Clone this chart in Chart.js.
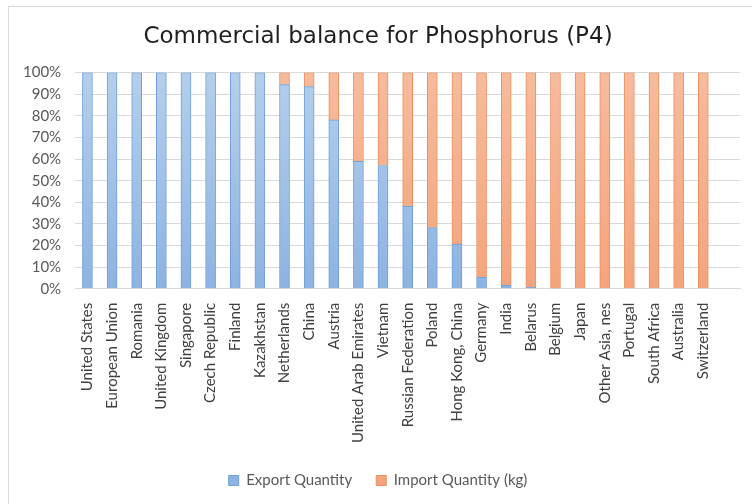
<!DOCTYPE html>
<html>
<head>
<meta charset="utf-8">
<script src="https://cdn.jsdelivr.net/npm/chart.js@4/dist/chart.umd.min.js"></script>
<style>
  html, body { margin: 0; padding: 0; background: #fff; }
  #lienzo { width: 752px; height: 504px; position: relative; }
  #marco { position: absolute; left: 8px; top: 6px; right: 0; bottom: 0;
           border-top: 1px solid #d9d9d9; border-left: 1px solid #d9d9d9; pointer-events: none; }
</style>
</head>
<body>
<div id="lienzo"><canvas id="chBal"></canvas><div id="marco"></div></div>
<script>
// Paises (el ultimo vacio deja el hueco de la derecha como en el original)
const PAISES = [
  "United States", "European Union", "Romania", "United Kingdom", "Singapore",
  "Czech Republic", "Finland", "Kazakhstan", "Netherlands", "China", "Austria",
  "United Arab Emirates", "Vietnam", "Russian Federation", "Poland",
  "Hong Kong, China", "Germany", "India", "Belarus", "Belgium", "Japan",
  "Other Asia, nes", "Portugal", "South Africa", "Australia", "Switzerland", ""
];

// Porcentaje exportado
const EXPORTACION = [
  100, 100, 100, 100, 100, 100, 100, 100, 94.4, 93.5, 78.1,
  58.9, 57.0, 38.2, 28.3, 20.7, 5.3, 1.6, 0.6, 0.2, 0,
  0, 0, 0, 0, 0, null
];

// Porcentaje importado = resto hasta 100
const IMPORTACION = [
  0, 0, 0, 0, 0, 0, 0, 0, 5.6, 6.5, 21.9,
  41.1, 43.0, 61.8, 71.7, 79.3, 94.7, 98.4, 99.4, 99.8, 100,
  100, 100, 100, 100, 100, null
];

const TICKS_Y = [0, 10, 20, 30, 40, 50, 60, 70, 80, 90, 100];

const FUENTE = "Lato, 'Open Sans', sans-serif";
const FUENTE_TITULO = "'DejaVu Sans', Verdana, sans-serif";

function degradado(ctx, arriba, abajo) {
  const area = ctx.chart.chartArea;
  if (!area) return arriba;
  const g = ctx.chart.ctx.createLinearGradient(0, area.top, 0, area.bottom);
  g.addColorStop(0, arriba);
  g.addColorStop(1, abajo);
  return g;
}

new Chart(document.getElementById("chBal"), {
  type: "bar",
  data: {
    labels: PAISES,
    datasets: [
      {
        label: "Export Quantity",
        data: EXPORTACION,
        backgroundColor: ctx => degradado(ctx, "#b4cfec", "#8db3e2"),
        borderColor: "#6f9fd6",
        borderWidth: 1,
        barThickness: 10,
      },
      {
        label: "Import Quantity (kg)",
        data: IMPORTACION,
        backgroundColor: ctx => degradado(ctx, "#f7bb9c", "#f4a47c"),
        borderColor: "#e9905f",
        borderWidth: 1,
        barThickness: 10,
      },
    ],
  },
  options: {
    responsive: true,
    maintainAspectRatio: false,
    animation: false,
    layout: { padding: { left: 9, right: 5, top: 12, bottom: 6 } },
    plugins: {
      title: {
        display: true,
        text: "Commercial balance for Phosphorus (P4)",
        color: "#1f1f1f",
        font: { family: FUENTE_TITULO, size: 23, weight: "normal" },
        padding: { top: 11, bottom: 22 },
      },
      legend: {
        position: "bottom",
        labels: {
          color: "#595959",
          font: { family: FUENTE, size: 15 },
          boxWidth: 10,
          boxHeight: 10,
          padding: 24,
        },
      },
      tooltip: { enabled: false },
    },
    scales: {
      x: {
        stacked: true,
        grid: { display: false },
        border: { color: "#d9d9d9" },
        ticks: {
          color: "#404040",
          font: { family: FUENTE, size: 15 },
          padding: 6,
          maxRotation: 90,
          minRotation: 90,
          autoSkip: false,
        },
      },
      y: {
        stacked: true,
        min: 0,
        max: 100,
        afterBuildTicks: axis => { axis.ticks = TICKS_Y.map(v => ({ value: v })); },
        grid: { color: "#d9d9d9", drawTicks: false },
        border: { display: false },
        ticks: {
          color: "#595959",
          font: { family: FUENTE, size: 15 },
          padding: 14,
          callback: v => v + "%",
        },
      },
    },
  },
});
</script>
</body>
</html>
